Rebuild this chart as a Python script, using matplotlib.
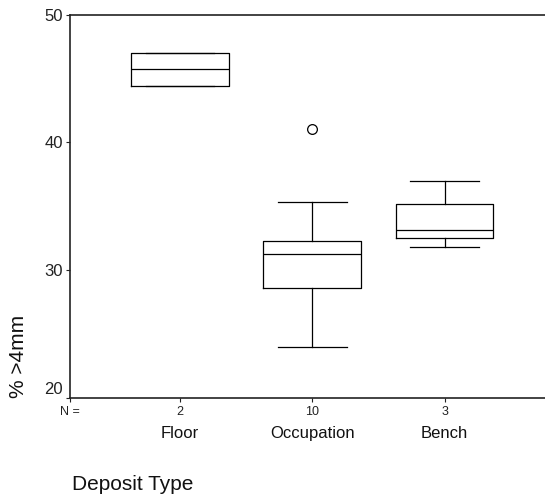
import matplotlib
matplotlib.use("Agg")
import matplotlib.pyplot as plt

plt.rcParams['font.family'] = ['Liberation Sans', 'DejaVu Sans']

categories = ["Floor", "Occupation", "Bench"]
counts = ["2", "10", "3"]
q1 = [44.41, 28.61, 32.48]
medians = [45.79, 31.23, 33.16]
q3 = [47.04, 32.27, 35.15]
whisker_low = [44.41, 23.96, 31.83]
whisker_high = [47.04, 35.31, 37.0]
outliers = [[], [41.06], []]
y_ticks = [20, 30, 40, 50]

fig = plt.figure(figsize=(5.45, 4.99), dpi=100)
ax = fig.add_axes([70/545, 1-397.5/499, 1-70/545, (397.5-15)/499])

stats = []
for i, c in enumerate(categories):
    stats.append(dict(label=c, q1=q1[i], med=medians[i], q3=q3[i],
                      whislo=whisker_low[i], whishi=whisker_high[i],
                      fliers=outliers[i]))
pos = list(range(1, len(categories)+1))
lw = 0.9
ax.bxp(stats, positions=pos, widths=0.74, showfliers=True,
       boxprops=dict(color='black', linewidth=lw),
       medianprops=dict(color='black', linewidth=lw),
       whiskerprops=dict(color='black', linewidth=lw),
       capprops=dict(color='black', linewidth=lw),
       capwidths=0.52,
       flierprops=dict(marker='o', markerfacecolor='white', markeredgecolor='black',
                       markersize=7, markeredgewidth=0.9))

ax.set_ylim(20, 50)
ax.set_xlim(0.167, 3.76)
ax.set_yticks(y_ticks)
ylabels = ax.set_yticklabels([str(t) for t in y_ticks], fontsize=12)
ylabels[0].set_va('bottom')
ax.set_xticks([0.167] + pos)
ax.set_xticklabels(["N ="] + counts, fontsize=9)
ax.tick_params(axis='y', length=3, width=0.8, pad=2, colors='#222222')
ax.tick_params(axis='x', length=3, width=0.8, pad=3, colors='#222222')
for s in ['left', 'bottom', 'top']:
    ax.spines[s].set_linewidth(1.2)
    ax.spines[s].set_color('#222222')
ax.spines['right'].set_visible(False)

tr = ax.get_xaxis_transform()
for p, c in zip(pos, categories):
    ax.text(p, -0.095, c, transform=tr, ha='center', va='center', fontsize=12, color='#111111')

fig.text(72/545, 1-485/499, "Deposit Type", ha='left', va='center', fontsize=15, color='#111111')
fig.text(19/545, 1-356/499, "% >4mm", ha='center', va='center', rotation=90, fontsize=15, color='#111111')

fig.savefig("out.png", dpi=100)
